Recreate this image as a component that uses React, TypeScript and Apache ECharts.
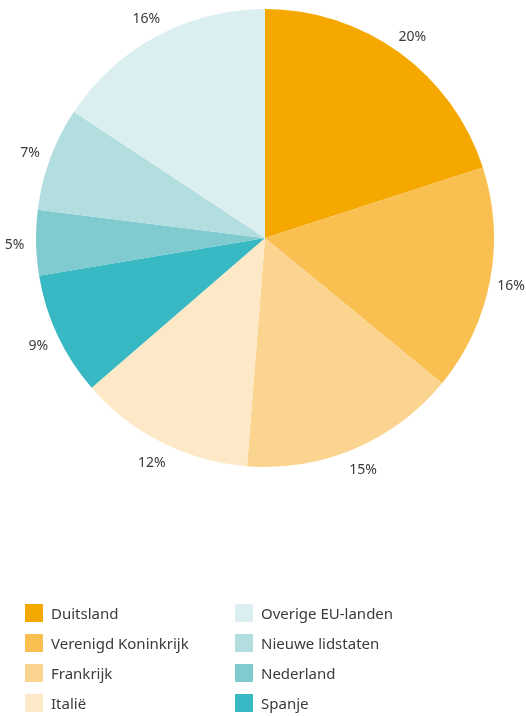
import React, { useEffect, useRef } from "react";
import * as echarts from "echarts";

const categories = [
  "Duitsland",
  "Verenigd Koninkrijk",
  "Frankrijk",
  "Italië",
  "Spanje",
  "Nederland",
  "Nieuwe lidstaten",
  "Overige EU-landen",
];
const shares = [20.0, 15.9, 15.3, 12.4, 8.7, 4.6, 7.3, 15.7];
const colors = ["#f5a800", "#f9bf50", "#fbd48f", "#fde9c8", "#38b8c3", "#80cbd0", "#b2dee0", "#dbeff0"];
const legendLeft = ["Duitsland", "Verenigd Koninkrijk", "Frankrijk", "Italië"];
const legendRight = ["Overige EU-landen", "Nieuwe lidstaten", "Nederland", "Spanje"];

export default function App() {
  const ref = useRef<HTMLDivElement>(null);
  useEffect(() => {
    if (!ref.current) return;
    const chart = echarts.init(ref.current, null, { renderer: "svg" });
    const font = "'Noto Sans', sans-serif";
    const legendCommon = {
      orient: "vertical",
      top: 604,
      height: 112,
      padding: 0,
      itemWidth: 18,
      itemHeight: 18,
      itemGap: 12,
      icon: "rect",
      selectedMode: false,
      textStyle: { fontFamily: font, fontSize: 15, color: "#3a3a3a", padding: [0, 0, 0, 3] },
    };
    chart.setOption({
      animation: false,
      color: colors,
      legend: [
        { ...legendCommon, left: 25, data: legendLeft },
        { ...legendCommon, left: 235, data: legendRight },
      ],
      series: [
        {
          type: "pie",
          center: [265, 238],
          radius: [0, 229],
          startAngle: 90,
          clockwise: true,
          silent: true,
          label: { show: false },
          labelLine: { show: false },
          itemStyle: { borderWidth: 0 },
          data: categories.map((c, i) => ({ name: c, value: shares[i], itemStyle: { color: colors[i] } })),
        },
        {
          type: "pie",
          center: [265, 238],
          radius: [229, 266],
          startAngle: 90,
          clockwise: true,
          silent: true,
          itemStyle: { color: "rgba(0,0,0,0)", borderWidth: 0 },
          labelLine: { show: false },
          label: {
            show: true,
            position: "inside",
            fontFamily: font,
            fontSize: 14,
            color: "#3a3a3a",
            formatter: (p: any) => Math.round(p.value) + "%",
          },
          data: shares.map((v) => ({ value: v })),
        },
      ],
    });
    return () => chart.dispose();
  }, []);
  return <div ref={ref} style={{ position: "fixed", left: 0, top: 0, width: 526, height: 716 }} />;
}
